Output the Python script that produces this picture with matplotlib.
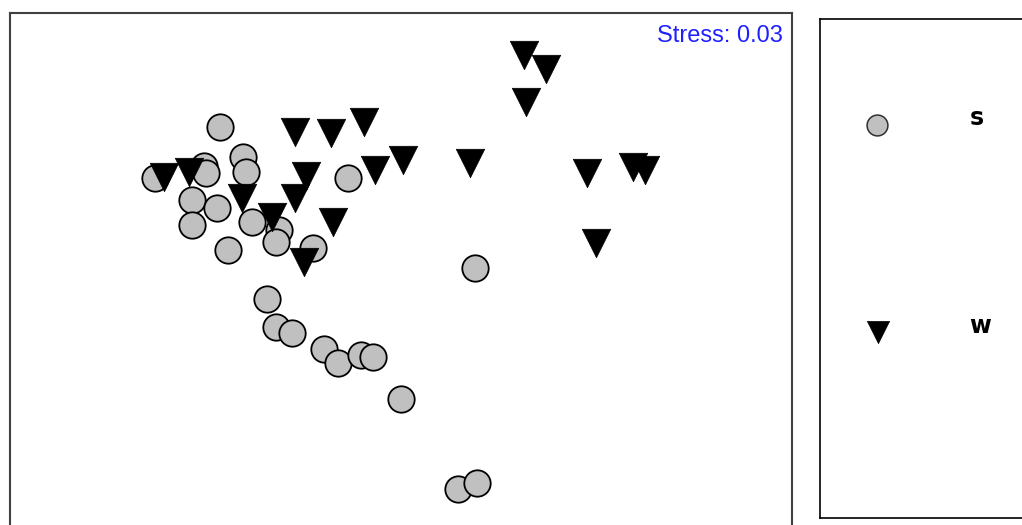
import matplotlib
matplotlib.use("Agg")
import matplotlib.pyplot as plt

# MDS ordination coordinates (screen units, y grows downward)
s_x = [220, 243, 246, 204, 206, 155, 192, 217, 192, 228, 252, 279, 276, 313,
       348, 475, 267, 276, 292, 324, 338, 361, 373, 401, 458, 477]
s_y = [127, 157, 172, 166, 173, 178, 200, 208, 225, 250, 222, 230, 242, 248,
       178, 268, 299, 327, 333, 349, 363, 355, 357, 399, 489, 483]

w_x = [164, 189, 242, 272, 295, 331, 364, 306, 295, 375, 403, 333, 304,
       524, 546, 526, 470, 587, 633, 645, 596]
w_y = [177, 172, 198, 217, 132, 133, 122, 176, 198, 170, 160, 222, 262,
       55, 69, 102, 163, 173, 167, 170, 243]

groups = ['s', 'w']
stress = 0.03

W, H = 1022, 525
fig = plt.figure(figsize=(W / 100, H / 100), dpi=100)

# main ordination panel (bottom edge runs off the image)
ax = fig.add_axes([10 / W, (H - 545) / H, 782 / W, (545 - 13) / H])
ax.scatter(s_x, s_y, s=19 ** 2, marker='o', facecolor='#c0c0c0',
           edgecolor='black', linewidth=1.3, zorder=2)
ax.scatter(w_x, w_y, s=20.5 ** 2, marker='v', facecolor='black',
           edgecolor='black', linewidth=0.5, zorder=3)
ax.set_xlim(10, 792)
ax.set_ylim(545, 13)
ax.set_xticks([])
ax.set_yticks([])
for sp in ax.spines.values():
    sp.set_color('#404040')
    sp.set_linewidth(1.5)
ax.text(783, 36, 'Stress: %.2f' % stress, color='#2020ff', ha='right',
        va='center', fontsize=17, family='Liberation Sans')

# legend panel
lg = fig.add_axes([820 / W, (H - 518) / H, 215 / W, (518 - 19) / H])
lg.set_xlim(820, 1035)
lg.set_ylim(518, 19)
lg.set_xticks([])
lg.set_yticks([])
for sp in lg.spines.values():
    sp.set_color('black')
    sp.set_linewidth(1.2)
lg.scatter([877], [125], s=15 ** 2, marker='o', facecolor='#c0c0c0',
           edgecolor='#303030', linewidth=1.1)
lg.scatter([878], [332], s=16 ** 2, marker='v', facecolor='black',
           edgecolor='black', linewidth=0.5)
lg.text(977, 118, groups[0], fontsize=17, fontweight='bold',
        ha='center', va='center', family='DejaVu Sans')
lg.text(980, 326, groups[1], fontsize=17, fontweight='bold',
        ha='center', va='center', family='DejaVu Sans')

fig.savefig('out.png', dpi=100)
